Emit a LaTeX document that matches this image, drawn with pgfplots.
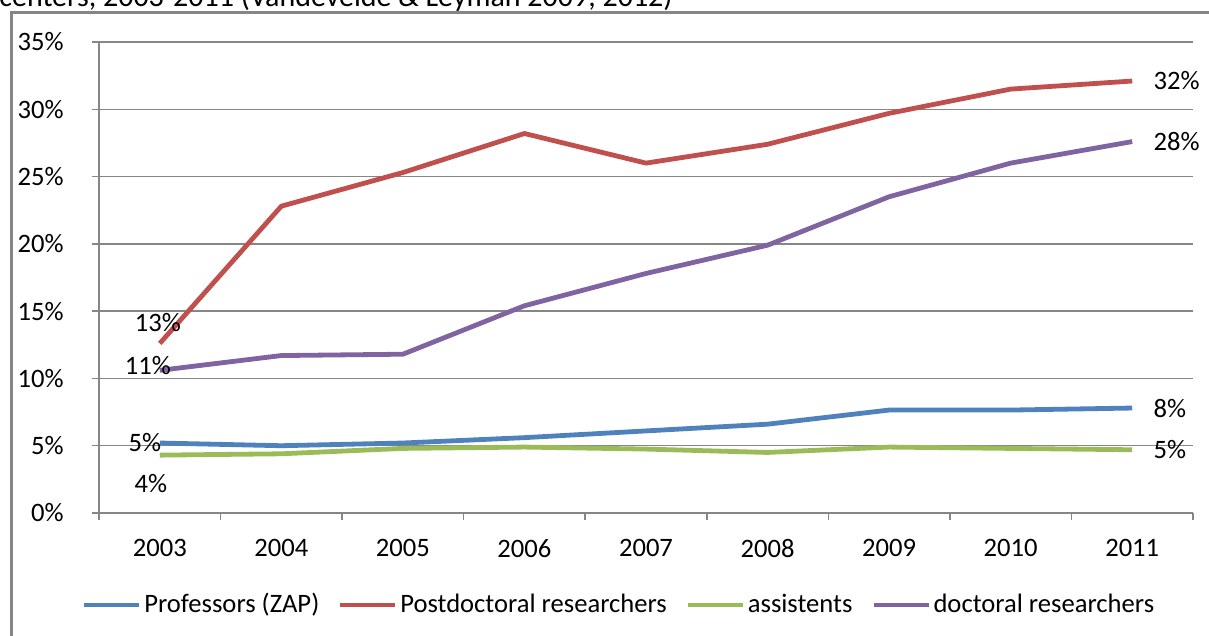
\documentclass[border=0pt]{standalone}
\usepackage{fontspec}
\setmainfont{Carlito}
\usepackage{pgfplots}
\pgfplotsset{compat=1.18}

\definecolor{xlblue}{HTML}{4F81BD}
\definecolor{xlred}{HTML}{C0504D}
\definecolor{xlgreen}{HTML}{9BBB59}
\definecolor{xlpurple}{HTML}{8064A2}
\definecolor{xlgrid}{HTML}{868686}

\newcommand{\chartfont}{\fontsize{13.3pt}{16pt}\selectfont}

\begin{document}
\begin{tikzpicture}
\chartfont
% page area
\path[use as bounding box] (0pt,0pt) rectangle (604.5pt,-318pt);
% caption line above the chart frame
\node[anchor=base west, inner sep=0pt, font=\fontsize{15pt}{18pt}\selectfont] at (-0.5pt,-3.2pt)
  {centers, 2003-2011 (Vandevelde \& Leyman 2009, 2012)};
% chart frame
\draw[xlgrid, line width=1.5pt] (5.5pt,-350pt) |- (650pt,-6.25pt);

\begin{axis}[
  at={(49.5pt,-256.5pt)}, anchor=south west,
  scale only axis,
  width=547pt, height=235.5pt,
  xmin=-0.5, xmax=8.5,
  ymin=0, ymax=35,
  clip=false,
  axis x line*=bottom, axis y line*=left,
  axis line style={xlgrid, line width=0.75pt},
  xtick={-0.5,0.5,...,8.5},
  xticklabels={},
  extra x ticks={0,...,8},
  extra x tick labels={2003,2004,2005,2006,2007,2008,2009,2010,2011},
  extra x tick style={major tick length=0pt, grid=none},
  ytick={0,5,...,35},
  yticklabels={0\%,5\%,10\%,15\%,20\%,25\%,30\%,35\%},
  tick style={xlgrid, line width=0.75pt},
  tick align=outside,
  major tick length=3.5pt,
  ymajorgrids=true,
  grid style={xlgrid, line width=0.75pt},
  xticklabel style={inner sep=0pt, anchor=north, yshift=-13pt},
  yticklabel style={inner sep=0pt, anchor=east, xshift=-14pt},
  tick label style={font=\chartfont},
  every axis plot/.append style={line width=2.4pt, line join=round},
  legend columns=4,
  legend style={at={(0.476,-0.195)}, anchor=center, draw=none, fill=none,
    font=\chartfont,
    inner sep=0pt,
    nodes={inner sep=1.5pt},
    /tikz/every even column/.append style={column sep=8pt}},
  legend image code/.code={\draw[#1, line width=2pt] (0pt,0pt) -- (27.5pt,0pt);},
]
\addplot[xlblue] coordinates {(0,5.2) (1,5.0) (2,5.2) (3,5.6) (4,6.1) (5,6.6) (6,7.65) (7,7.65) (8,7.8)};
\addlegendentry{Professors (ZAP)}
\addplot[xlred] coordinates {(0,12.6) (1,22.8) (2,25.3) (3,28.2) (4,26.0) (5,27.4) (6,29.7) (7,31.5) (8,32.1)};
\addlegendentry{Postdoctoral researchers}
\addplot[xlgreen] coordinates {(0,4.3) (1,4.4) (2,4.8) (3,4.9) (4,4.75) (5,4.5) (6,4.9) (7,4.8) (8,4.7)};
\addlegendentry{assistents}
\addplot[xlpurple] coordinates {(0,10.6) (1,11.7) (2,11.8) (3,15.4) (4,17.8) (5,19.9) (6,23.5) (7,26.0) (8,27.6)};
\addlegendentry{doctoral researchers}

% value labels at the first and last years
\node[inner sep=0pt] at (axis cs:0,12.6) [yshift=10.5pt, xshift=-1pt] {13\%};
\node[inner sep=0pt] at (axis cs:0,10.6) [yshift=2.5pt, xshift=-6pt] {11\%};
\node[inner sep=0pt] at (axis cs:0,5.2) [yshift=0pt, xshift=-7.5pt] {5\%};
\node[inner sep=0pt] at (axis cs:0,4.3) [yshift=-14pt, xshift=-4.5pt] {4\%};
\node[inner sep=0pt, anchor=west] at (axis cs:8,32.1) [xshift=10.5pt] {32\%};
\node[inner sep=0pt, anchor=west] at (axis cs:8,27.6) [xshift=10.5pt] {28\%};
\node[inner sep=0pt, anchor=west] at (axis cs:8,7.8) [xshift=10.5pt] {8\%};
\node[inner sep=0pt, anchor=west] at (axis cs:8,4.7) [xshift=10.5pt] {5\%};
\end{axis}
\end{tikzpicture}
\end{document}
